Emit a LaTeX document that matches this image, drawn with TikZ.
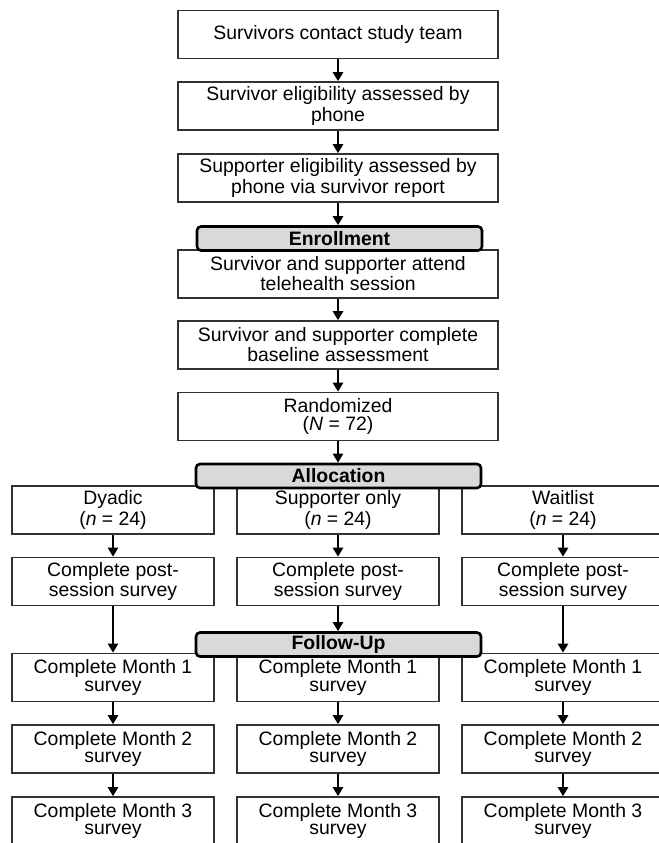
\documentclass[tikz,border=0pt]{standalone}
\usepackage{fontspec}
\setmainfont{Liberation Sans}
\usepackage{tikz}
\usetikzlibrary{arrows.meta}
\definecolor{phasegray}{RGB}{217,217,217}
\definecolor{boxline}{RGB}{50,50,50}

\begin{document}
\begin{tikzpicture}[x=0.5pt, y=-0.5pt,
    box/.style={draw=boxline, line width=0.8pt, fill=white, align=center, inner sep=1pt,
        font=\fontsize{9.7}{8.8}\selectfont},
    widebox/.style={box, minimum width=160pt, minimum height=24pt},
    colbox/.style={box, minimum width=101pt, minimum height=24pt},
    phase/.style={draw=black, line width=1.3pt, rounded corners=2pt, fill=phasegray,
        minimum width=142.5pt, minimum height=12pt, inner sep=0pt,
        font=\bfseries\fontsize{9.7}{9.7}\selectfont},
    arr/.style={line width=1.2pt, -{Triangle[width=5pt, length=4.5pt]}}]

    \useasboundingbox (0,0) rectangle (659,843);
    \clip (0,0) rectangle (659,843);

    % screening and enrollment
    \node[widebox] (contact) at (338,34.5) {Survivors contact study team};
    \node[widebox] (elig) at (338,106) {Survivor eligibility assessed by\\phone};
    \node[widebox] (supelig) at (338,178) {Supporter eligibility assessed by\\phone via survivor report};
    \node[widebox] (attend) at (338,274) {Survivor and supporter attend\\telehealth session};
    \node[widebox] (baseline) at (338,345) {Survivor and supporter complete\\baseline assessment};
    \node[widebox] (random) at (338,416.5) {Randomized\\(\textit{N} = 72)};

    % the three arms
    \foreach \c/\x/\grp in {1/113/Dyadic, 2/338/Supporter only, 3/563/Waitlist} {
        \node[colbox] (arm\c) at (\x,510) {\grp\strut\\(\textit{n} = 24)};
        \node[colbox] (post\c) at (\x,581.5) {Complete post-\\session survey};
        \foreach \m/\y in {1/677.5, 2/749, 3/821}
            \node[colbox] (month\m-\c) at (\x,\y) {Complete Month \m\\survey};
    }

    % phase labels
    \node[phase] (enroll) at (339.5,238.5) {Enrollment};
    \node[phase] (alloc) at (338.5,476) {Allocation};
    \node[phase] (follow) at (338.5,644.5) {Follow-Up};

    \draw[arr] (contact) -- (elig);
    \draw[arr] (elig) -- (supelig);
    \draw[arr] (supelig.south) -- (supelig.south |- enroll.north);
    \draw[arr] (attend) -- (baseline);
    \draw[arr] (baseline) -- (random);
    \draw[arr] (random.south) -- (random.south |- alloc.north);

    \foreach \c in {1,2,3} {
        \draw[arr] (arm\c) -- (post\c);
        \draw[arr] (month1-\c) -- (month2-\c);
        \draw[arr] (month2-\c) -- (month3-\c);
    }
    \draw[arr] (post1) -- (month1-1);
    \draw[arr] (post2.south) -- (post2.south |- follow.north);
    \draw[arr] (post3) -- (month1-3);
\end{tikzpicture}
\end{document}
